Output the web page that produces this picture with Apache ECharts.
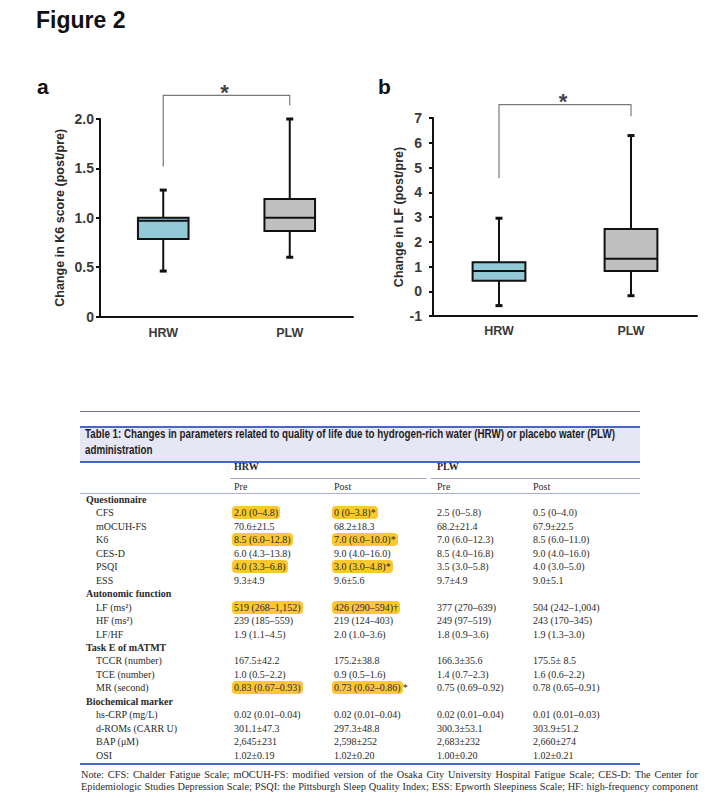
<!DOCTYPE html>
<html><head><meta charset="utf-8">
<script src="https://cdn.jsdelivr.net/npm/echarts@6.0.0/dist/echarts.min.js"></script>
<style>
html,body{margin:0;padding:0;background:#fff;}
body{width:709px;height:811px;overflow:hidden;position:relative;}
#fig{position:absolute;left:0;top:0;width:709px;height:360px;}
.t{position:absolute;white-space:nowrap;font-family:"Liberation Serif","Times New Roman",serif;font-size:10px;line-height:12px;color:#2a2a2a;}
.b{font-weight:bold;}
.hl{background:#fbc82e;border-radius:4px;padding:1px 2px;margin-left:-2px;}
.ln{position:absolute;}
#title{position:absolute;left:85px;top:426px;font-family:"Liberation Sans",Arial,sans-serif;font-weight:bold;font-size:12.5px;line-height:16px;color:#1e1e1e;white-space:nowrap;transform-origin:0 0;}
.note{position:absolute;left:81px;width:617px;font-family:"Liberation Serif","Times New Roman",serif;font-size:10.3px;line-height:12px;color:#2a2a2a;text-align:justify;text-align-last:justify;white-space:normal;}
</style>
</head><body>
<div id="fig"></div>
<div id="table"></div>
<script>
// ---------- chart data ----------
const categories = ['HRW', 'PLW'];
// [min, Q1, median, Q3, max]
const k6Change = [[0.46, 0.785, 0.97, 1.0, 1.28], [0.60, 0.865, 1.0, 1.19, 2.0]];
const lfChange = [[-0.58, 0.42, 0.82, 1.17, 2.95], [-0.18, 0.82, 1.31, 2.52, 6.29]];
const boxColors = ['#93c9d7', '#c0c0c0'];
// bracket: [leftCat, rightCat, leftBottom, rightBottom, top]
const k6Bracket = [[0, 1, 1.52, 2.14, 2.24]];
const lfBracket = [[0, 1, 4.57, 7.07, 7.54]];
const sigMark = '*';

// ---------- table data ----------
const tableTitle = ['Table 1: Changes in parameters related to quality of life due to hydrogen-rich water (HRW) or placebo water (PLW)', 'administration'];
const groupHeaders = ['HRW', 'PLW'];
const phaseHeaders = ['Pre', 'Post', 'Pre', 'Post'];
const rowNames = ['Questionnaire','CFS','mOCUH-FS','K6','CES-D','PSQI','ESS','Autonomic function','LF (ms²)','HF (ms²)','LF/HF','Task E of mATMT','TCCR (number)','TCE (number)','MR (second)','Biochemical marker','hs-CRP (mg/L)','d-ROMs (CARR U)','BAP (μM)','OSI'];
const hrwPre = [null,'2.0 (0–4.8)','70.6±21.5','8.5 (6.0–12.8)','6.0 (4.3–13.8)','4.0 (3.3–6.8)','9.3±4.9',null,'519 (268–1,152)','239 (185–559)','1.9 (1.1–4.5)',null,'167.5±42.2','1.0 (0.5–2.2)','0.83 (0.67–0.93)',null,'0.02 (0.01–0.04)','301.1±47.3','2,645±231','1.02±0.19'];
const hrwPost = [null,'0 (0–3.8)*','68.2±18.3','7.0 (6.0–10.0)*','9.0 (4.0–16.0)','3.0 (3.0–4.8)*','9.6±5.6',null,'426 (290–594)†','219 (124–403)','2.0 (1.0–3.6)',null,'175.2±38.8','0.9 (0.5–1.6)','0.73 (0.62–0.86)*',null,'0.02 (0.01–0.04)','297.3±48.8','2,598±252','1.02±0.20'];
const plwPre = [null,'2.5 (0–5.8)','68.2±21.4','7.0 (6.0–12.3)','8.5 (4.0–16.8)','3.5 (3.0–5.8)','9.7±4.9',null,'377 (270–639)','249 (97–519)','1.8 (0.9–3.6)',null,'166.3±35.6','1.4 (0.7–2.3)','0.75 (0.69–0.92)',null,'0.02 (0.01–0.04)','300.3±53.1','2,683±232','1.00±0.20'];
const plwPost = [null,'0.5 (0–4.0)','67.9±22.5','8.5 (6.0–11.0)','9.0 (4.0–16.0)','4.0 (3.0–5.0)','9.0±5.1',null,'504 (242–1,004)','243 (170–345)','1.9 (1.3–3.0)',null,'175.5± 8.5','1.6 (0.6–2.2)','0.78 (0.65–0.91)',null,'0.01 (0.01–0.03)','303.9±51.2','2,660±274','1.02±0.21'];
const highlightRows = ['CFS','K6','PSQI','LF (ms²)','MR (second)'];
const noteLines = ['Note: CFS: Chalder Fatigue Scale; mOCUH-FS: modified version of the Osaka City University Hospital Fatigue Scale; CES-D: The Center for', 'Epidemiologic Studies Depression Scale; PSQI: the Pittsburgh Sleep Quality Index; ESS: Epworth Sleepiness Scale; HF: high-frequency component'];

// ---------- chart ----------
const SANS = '"Liberation Sans", Arial, sans-serif';
function boxRender(params, api) {
  const c = api.value(0);
  const lo = api.coord([c, api.value(1)]), q1 = api.coord([c, api.value(2)]),
        md = api.coord([c, api.value(3)]), q3 = api.coord([c, api.value(4)]),
        hi = api.coord([c, api.value(5)]);
  const w = api.size([1, 0])[0] * 0.4;
  const cx = lo[0], cap = 3.5;
  const ls = {stroke: '#111', lineWidth: 2};
  return {type: 'group', children: [
    {type: 'line', shape: {x1: cx, y1: hi[1], x2: cx, y2: q3[1]}, style: ls},
    {type: 'line', shape: {x1: cx, y1: q1[1], x2: cx, y2: lo[1]}, style: ls},
    {type: 'line', shape: {x1: cx - cap, y1: hi[1], x2: cx + cap, y2: hi[1]}, style: {stroke: '#111', lineWidth: 3}},
    {type: 'line', shape: {x1: cx - cap, y1: lo[1], x2: cx + cap, y2: lo[1]}, style: {stroke: '#111', lineWidth: 3}},
    {type: 'rect', shape: {x: cx - w / 2, y: q3[1], width: w, height: q1[1] - q3[1]}, style: {fill: boxColors[c], stroke: '#111', lineWidth: 2}},
    {type: 'line', shape: {x1: cx - w / 2, y1: md[1], x2: cx + w / 2, y2: md[1]}, style: ls}
  ]};
}
function bracketRender(params, api) {
  const l = api.coord([api.value(0), api.value(2)]);
  const r = api.coord([api.value(1), api.value(3)]);
  const tl = api.coord([api.value(0), api.value(4)]);
  const tr = api.coord([api.value(1), api.value(4)]);
  return {type: 'group', children: [
    {type: 'polyline', shape: {points: [l, tl, tr, r]}, style: {stroke: '#7a7a7a', lineWidth: 1.2, fill: null}},
    {type: 'text', style: {text: sigMark, x: (tl[0] + tr[0]) / 2 - 2, y: tl[1] - 3, align: 'center', verticalAlign: 'middle', textAlign: 'center', textVerticalAlign: 'middle', font: 'bold 22px ' + SANS, fill: '#444'}}
  ]};
}
function mkSeries(idx, stats, bracket) {
  return [
    {type: 'custom', xAxisIndex: idx, yAxisIndex: idx, renderItem: boxRender, clip: false,
     encode: {x: 0, y: [1, 2, 3, 4, 5]}, data: stats.map((s, i) => [i].concat(s))},
    {type: 'custom', xAxisIndex: idx, yAxisIndex: idx, renderItem: bracketRender, clip: false,
     encode: {x: [0, 1], y: [2, 3, 4]}, data: bracket}
  ];
}
const axisLine = {show: true, onZero: false, lineStyle: {color: '#111', width: 2}};
const chart = echarts.init(document.getElementById('fig'), null, {renderer: 'svg'});
chart.setOption({
  animation: false,
  backgroundColor: '#fff',
  grid: [
    {left: 100, top: 119, width: 253, height: 197.5},
    {left: 433, top: 118, width: 264, height: 198}
  ],
  xAxis: [0, 1].map(i => ({
    type: 'category', gridIndex: i, data: categories, boundaryGap: true,
    axisLine: axisLine, axisTick: {show: false},
    axisLabel: {margin: i === 0 ? 10 : 8, fontFamily: SANS, fontWeight: 'bold', fontSize: 12.5, color: '#3a3a3a'}
  })),
  yAxis: [
    {type: 'value', gridIndex: 0, min: 0, max: 2, interval: 0.5,
     name: 'Change in K6 score (post/pre)', nameLocation: 'middle', nameRotate: 90, nameGap: 34,
     nameTextStyle: {fontFamily: SANS, fontWeight: 'bold', fontSize: 12.5, color: '#2a2a2a'},
     axisLine: axisLine, axisTick: {show: true, length: 4, lineStyle: {color: '#111', width: 2}},
     splitLine: {show: false},
     axisLabel: {margin: 6, fontFamily: SANS, fontWeight: 'bold', fontSize: 14, color: '#3a3a3a',
       formatter: v => v === 0 ? '0' : v.toFixed(1)}},
    {type: 'value', gridIndex: 1, min: -1, max: 7, interval: 1,
     name: 'Change in LF (post/pre)', nameLocation: 'middle', nameRotate: 90, nameGap: 28,
     nameTextStyle: {fontFamily: SANS, fontWeight: 'bold', fontSize: 12.5, color: '#2a2a2a'},
     axisLine: axisLine, axisTick: {show: true, length: 4, lineStyle: {color: '#111', width: 2}},
     splitLine: {show: false},
     axisLabel: {margin: 11, fontFamily: SANS, fontWeight: 'bold', fontSize: 14, color: '#3a3a3a'}}
  ],
  graphic: [
    {type: 'text', left: 36, top: 8, style: {text: 'Figure 2', font: 'bold 23px ' + SANS, fill: '#111'}},
    {type: 'text', left: 37, top: 76, style: {text: 'a', font: 'bold 21px ' + SANS, fill: '#111'}},
    {type: 'text', left: 378, top: 76, style: {text: 'b', font: 'bold 21px ' + SANS, fill: '#111'}}
  ],
  series: mkSeries(0, k6Change, k6Bracket).concat(mkSeries(1, lfChange, lfBracket))
});

// ---------- table ----------
const tb = document.getElementById('table');
function add(html, x, yc, cls) {
  const d = document.createElement('div');
  d.className = 't' + (cls ? ' ' + cls : '');
  d.style.left = x + 'px'; d.style.top = (yc - 6) + 'px';
  d.innerHTML = html; tb.appendChild(d); return d;
}
function line(x, y, w, h, color) {
  const d = document.createElement('div');
  d.className = 'ln';
  d.style.cssText = `left:${x}px;top:${y}px;width:${w}px;height:${h}px;background:${color};`;
  tb.appendChild(d);
}
line(80, 411, 560, 1, '#6b6f96');
const band = document.createElement('div');
band.style.cssText = 'position:absolute;left:80px;top:426px;width:560px;height:33px;background:#e6e7f4;border-top:2px solid #4866c6;border-bottom:2px solid #4866c6;';
tb.appendChild(band);
const ttl = document.createElement('div');
ttl.id = 'title'; ttl.innerHTML = tableTitle.join('<br>');
tb.appendChild(ttl);
const tw = ttl.scrollWidth;
ttl.style.transform = `scaleX(${530 / tw})`;

const colX = [234, 334, 437, 533];
add(groupHeaders[0], colX[0], 467, 'b');
add(groupHeaders[1], colX[2], 467, 'b');
line(230, 478, 197, 1, '#a3a8cf');
line(431, 478, 209, 1, '#a3a8cf');
phaseHeaders.forEach((p, i) => add(p, colX[i], 486.5));
line(80, 493, 560, 1, '#a9b1d9');

const cols = [hrwPre, hrwPost, plwPre, plwPost];
const esc = s => s.replace(/&/g, '&amp;').replace(/</g, '&lt;');
rowNames.forEach((name, r) => {
  const y = 500 + r * 13.45;
  if (hrwPre[r] === null) { add(esc(name), 86, y, 'b'); return; }
  add(esc(name), 96, y);
  cols.forEach((col, c) => {
    let v = col[r], html = esc(v);
    if (c < 2 && highlightRows.includes(name)) {
      if (name === 'MR (second)' && v.endsWith('*')) html = '<span class="hl">' + esc(v.slice(0, -1)) + '</span>*';
      else html = '<span class="hl">' + html + '</span>';
    }
    add(html, colX[c], y);
  });
});
line(80, 763, 560, 2, '#4866c6');
noteLines.forEach((t, i) => {
  const d = document.createElement('div');
  d.className = 'note'; d.style.top = (769 + i * 11.5) + 'px';
  d.textContent = t; tb.appendChild(d);
});
</script>
</body></html>
